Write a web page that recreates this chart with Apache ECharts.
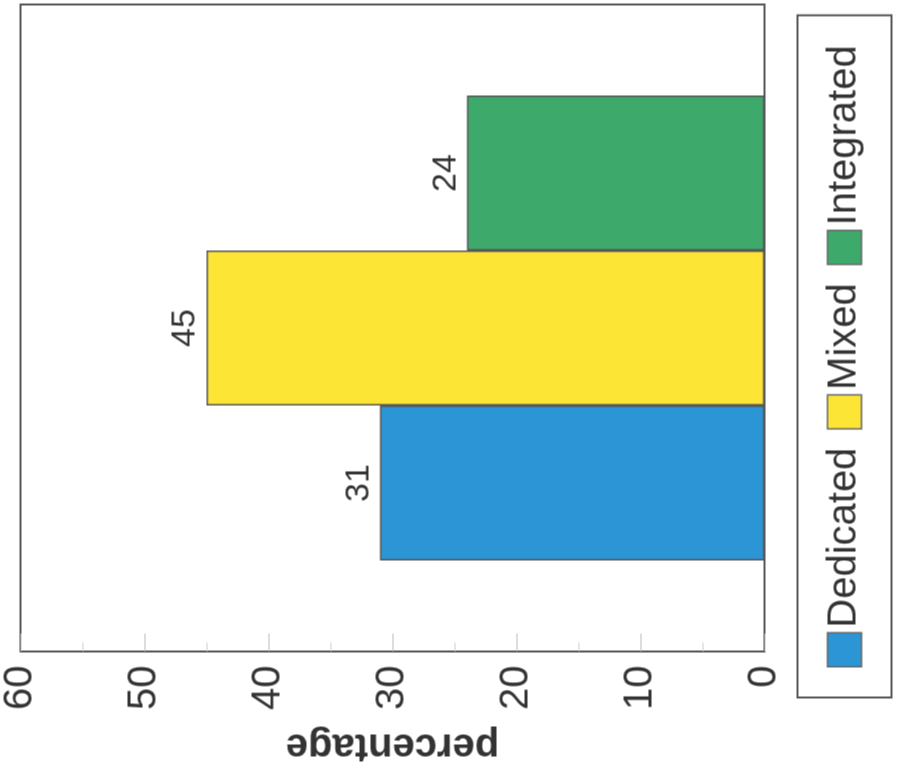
<!DOCTYPE html>
<html>
<head>
<meta charset="utf-8">
<script src="https://cdn.jsdelivr.net/npm/echarts@6/dist/echarts.min.js"></script>
<style>
  html, body { margin: 0; padding: 0; background: #fff; overflow: hidden; }
  body { width: 902px; height: 777px; position: relative; }
  /* the source figure is a column chart turned a quarter turn to the left */
  #chart {
    position: absolute;
    width: 777px;
    height: 902px;
    left: 62.5px;
    top: -62.5px;
    transform: rotate(-90deg);
    transform-origin: 50% 50%;
  }
</style>
</head>
<body>
<div id="chart"></div>
<script>
// data
var categories = [''];
var seriesNames = ['Dedicated', 'Mixed', 'Integrated'];
var dedicatedValues = [31];
var mixedValues = [45];
var integratedValues = [24];
var colors = ['#2b95d5', '#fde535', '#3daa6c'];

var chart = echarts.init(document.getElementById('chart'));

function barSeries(name, values) {
  return {
    name: name,
    type: 'bar',
    data: values,
    barWidth: 155,
    barGap: '0%',
    itemStyle: {
      borderColor: '#555',
      borderWidth: 1.5
    },
    label: {
      show: true,
      position: 'top',
      distance: 4,
      fontSize: 34,
      color: '#333'
    }
  };
}

var option = {
  animation: false,
  backgroundColor: '#fff',
  color: colors,
  textStyle: {
    fontFamily: 'Liberation Sans, Arial, sans-serif'
  },
  grid: {
    show: true,
    left: 126,
    right: 4,
    top: 19,
    bottom: 138,
    borderColor: '#555',
    borderWidth: 2,
    containLabel: false
  },
  legend: {
    data: seriesNames,
    orient: 'horizontal',
    left: 80,
    top: 797,
    padding: [27, 30],
    borderColor: '#555',
    borderWidth: 2,
    itemWidth: 34,
    itemHeight: 34,
    itemGap: 18,
    icon: 'rect',
    itemStyle: {
      borderColor: '#666',
      borderWidth: 1.5
    },
    textStyle: {
      fontSize: 40,
      color: '#333'
    }
  },
  xAxis: {
    type: 'category',
    data: categories,
    axisLine: { show: true, lineStyle: { color: '#555', width: 2 } },
    axisTick: {
      show: true,
      inside: true,
      alignWithLabel: true,
      length: 10,
      lineStyle: { color: '#666' }
    },
    axisLabel: { show: false },
    splitLine: { show: false }
  },
  yAxis: {
    type: 'value',
    min: 0,
    max: 60,
    interval: 10,
    name: 'percentage',
    nameLocation: 'middle',
    nameGap: 74,
    nameTextStyle: {
      fontSize: 40,
      fontWeight: 'bold',
      color: '#333'
    },
    axisLine: { show: true, lineStyle: { color: '#555', width: 2 } },
    axisTick: {
      show: true,
      inside: true,
      length: 18,
      lineStyle: { color: '#bbb' }
    },
    minorTick: {
      show: true,
      splitNumber: 2,
      length: 9,
      lineStyle: { color: '#ccc' }
    },
    axisLabel: {
      fontSize: 40,
      color: '#333',
      margin: 14
    },
    splitLine: { show: false }
  },
  series: [
    barSeries(seriesNames[0], dedicatedValues),
    barSeries(seriesNames[1], mixedValues),
    barSeries(seriesNames[2], integratedValues)
  ]
};

chart.setOption(option);
</script>
</body>
</html>
